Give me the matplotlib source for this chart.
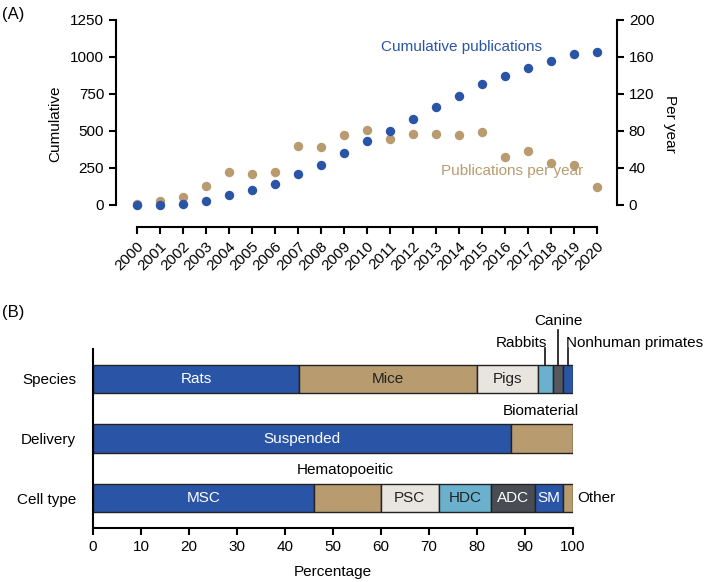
import matplotlib
matplotlib.use("Agg")
import matplotlib.pyplot as plt
import numpy as np

plt.rcParams['font.family'] = ['Liberation Sans', 'DejaVu Sans']

years = list(range(2000, 2021))
cumulative = [1, 3, 10, 30, 65, 101, 142, 207, 270, 349, 430, 502, 581, 660, 736, 815, 869, 928, 973, 1018, 1036]
per_year = [1, 4, 9, 21, 36, 34, 36, 64, 63, 76, 81, 71, 77, 77, 76, 79, 52, 58, 45, 43, 19]

rows = ['Species', 'Delivery', 'Cell type']
species_labels = ['Rats', 'Mice', 'Pigs', 'Rabbits', 'Canine', 'Nonhuman primates']
species_vals = [43, 37, 12.7, 3.1, 2.2, 2.0]
delivery_labels = ['Suspended', 'Biomaterial']
delivery_vals = [87, 13]
cell_labels = ['MSC', 'Hematopoeitic', 'PSC', 'HDC', 'ADC', 'SM', 'Other']
cell_vals = [46, 14, 12, 11, 9, 6, 2]

BLUE = '#2a55a7'
TAN = '#b89b6f'
LIGHT = '#e8e5de'
LBLUE = '#6bb0cd'
DGRAY = '#55585f'
DGRAY2 = '#4a4c53'

fig = plt.figure(figsize=(7.09, 5.82), dpi=100)

# ---------- Panel A ----------
ax = fig.add_axes([116/709, 1-227/582, 501/709, 207/582])
ax2 = ax.twinx()
ax.set_xlim(2000 - 21/23, 2020 + 20/23)
ax.set_ylim(-22*1250/185, 1250)
ax2.set_ylim(-22*200/185, 200)
ax.scatter(years, cumulative, s=46, color=BLUE, zorder=3, linewidths=0)
ax2.scatter(years, per_year, s=46, color=TAN, zorder=2, linewidths=0)
ax.set_zorder(ax2.get_zorder() + 1)
ax.patch.set_visible(False)

for a in (ax, ax2):
    a.spines['top'].set_visible(False)
    for s in a.spines.values():
        s.set_linewidth(1.5)
    a.tick_params(width=1.5, length=5, labelsize=11, direction='out')
ax.spines['right'].set_visible(False)
ax2.spines['left'].set_visible(False)
ax2.spines['bottom'].set_visible(False)
ax.spines['left'].set_bounds(0, 1250)
ax2.spines['right'].set_bounds(0, 200)
ax.spines['bottom'].set_bounds(2000, 2020)
ax.set_yticks([0, 250, 500, 750, 1000, 1250])
ax2.set_yticks([0, 40, 80, 120, 160, 200])
ax.set_xticks(years)
ax.set_xticklabels([str(y) for y in years], rotation=45, ha='right', rotation_mode='anchor')
ax.set_ylabel('Cumulative', fontsize=11, labelpad=6)
ax2.set_ylabel('Per year', fontsize=11, rotation=270, labelpad=16)
ax.text(2014.1, 1070, 'Cumulative publications', color=BLUE, fontsize=11, ha='center', va='center')
ax2.text(2016.3, 37, 'Publications per year', color=TAN, fontsize=11, ha='center', va='center')
fig.text(2/709, 1-15/582, '(A)', fontsize=12, ha='left', va='center')

# ---------- Panel B ----------
bx = fig.add_axes([93/709, 1-528/582, 480/709, 179/582])
bx.set_xlim(0, 100)
bx.set_ylim(-0.5, 2.5)
h = 0.47
ypos = {'Species': 2, 'Delivery': 1, 'Cell type': 0}

def draw_row(y, labels, vals, colors, textcolors, inside):
    left = 0
    for lab, v, c, tc, ins in zip(labels, vals, colors, textcolors, inside):
        bx.barh(y, v, left=left, height=h, color=c, edgecolor='#222222', linewidth=1.0)
        if ins:
            bx.text(left + v/2, y, lab, color=tc, fontsize=11, ha='center', va='center')
        left += v

draw_row(2, species_labels, species_vals,
         [BLUE, TAN, LIGHT, LBLUE, DGRAY, BLUE],
         ['white', '#222222', '#222222', None, None, None],
         [True, True, True, False, False, False])
draw_row(1, delivery_labels, delivery_vals,
         [BLUE, TAN], ['white', None], [True, False])
draw_row(0, cell_labels, cell_vals,
         [BLUE, TAN, LIGHT, LBLUE, DGRAY2, BLUE, TAN],
         ['white', None, '#222222', '#222222', 'white', 'white', None],
         [True, False, True, True, True, True, False])

# external labels for species
cum = np.cumsum([0] + species_vals)
top = 2 + h/2
rab_x = cum[3] + species_vals[3]/2
can_x = cum[4] + species_vals[4]/2
nhp_x = cum[5] + species_vals[5]/2
bx.plot([rab_x, rab_x], [top, top + 0.28], color='#111111', lw=1.2, clip_on=False)
bx.plot([can_x, can_x], [top, top + 0.58], color='#111111', lw=1.2, clip_on=False)
bx.plot([nhp_x, nhp_x], [top, top + 0.28], color='#111111', lw=1.2, clip_on=False)
bx.text(rab_x + 0.3, top + 0.36, 'Rabbits', fontsize=11, ha='right', va='center')
bx.text(can_x, top + 0.73, 'Canine', fontsize=11, ha='center', va='center')
bx.text(nhp_x - 0.5, top + 0.36, 'Nonhuman primates', fontsize=11, ha='left', va='center')
bx.text(87 + 13/2 - 0.2, 1 + h/2 + 0.22, 'Biomaterial', fontsize=11, ha='center', va='center')
bx.text(52.5, h/2 + 0.23, 'Hematopoeitic', fontsize=11, ha='center', va='center')
bx.text(100.8, 0, 'Other', fontsize=11, ha='left', va='center')

bx.set_yticks([ypos[r] for r in rows])
bx.set_yticklabels(rows)
bx.tick_params(axis='y', length=0, pad=12, labelsize=11)
bx.tick_params(axis='x', width=1.5, length=5, labelsize=11)
bx.set_xticks(range(0, 101, 10))
bx.spines['top'].set_visible(False)
bx.spines['right'].set_visible(False)
for s in bx.spines.values():
    s.set_linewidth(1.5)
bx.set_xlabel('Percentage', fontsize=11, labelpad=8)
fig.text(2/709, 1-312/582, '(B)', fontsize=12, ha='left', va='center')

fig.savefig('out.png', dpi=100)
